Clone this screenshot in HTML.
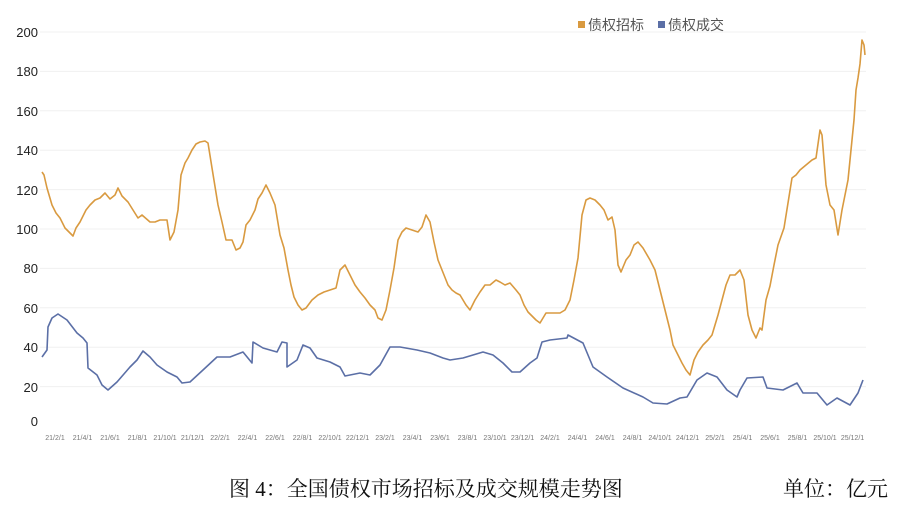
<!DOCTYPE html>
<html><head><meta charset="utf-8"><style>
html,body{margin:0;padding:0;background:#fff;width:900px;height:510px;overflow:hidden}
svg{display:block}
</style></head><body>
<svg width="900" height="510" xmlns="http://www.w3.org/2000/svg">
<g stroke="#f0f0f0" stroke-width="1">
<line x1="40" x2="866" y1="32" y2="32"/><line x1="40" x2="866" y1="71.4" y2="71.4"/>
<line x1="40" x2="866" y1="110.8" y2="110.8"/><line x1="40" x2="866" y1="150.2" y2="150.2"/>
<line x1="40" x2="866" y1="189.6" y2="189.6"/><line x1="40" x2="866" y1="229" y2="229"/>
<line x1="40" x2="866" y1="268.4" y2="268.4"/><line x1="40" x2="866" y1="307.8" y2="307.8"/>
<line x1="40" x2="866" y1="347.2" y2="347.2"/><line x1="40" x2="866" y1="386.6" y2="386.6"/>
</g>
<g font-family="Liberation Sans, sans-serif" font-size="13" fill="#222" text-anchor="end">
<text x="38" y="37">200</text><text x="38" y="76">180</text><text x="38" y="116">160</text>
<text x="38" y="155">140</text><text x="38" y="195">120</text><text x="38" y="234">100</text>
<text x="38" y="273">80</text><text x="38" y="313">60</text><text x="38" y="352">40</text>
<text x="38" y="392">20</text><text x="38" y="426">0</text>
</g>
<g font-family="Liberation Sans, sans-serif" font-size="7" fill="#777" text-anchor="middle">
<text x="55" y="440">21/2/1</text><text x="82.5" y="440">21/4/1</text><text x="110" y="440">21/6/1</text>
<text x="137.5" y="440">21/8/1</text><text x="165" y="440">21/10/1</text><text x="192.5" y="440">21/12/1</text>
<text x="220" y="440">22/2/1</text><text x="247.5" y="440">22/4/1</text><text x="275" y="440">22/6/1</text>
<text x="302.5" y="440">22/8/1</text><text x="330" y="440">22/10/1</text><text x="357.5" y="440">22/12/1</text>
<text x="385" y="440">23/2/1</text><text x="412.5" y="440">23/4/1</text><text x="440" y="440">23/6/1</text>
<text x="467.5" y="440">23/8/1</text><text x="495" y="440">23/10/1</text><text x="522.5" y="440">23/12/1</text>
<text x="550" y="440">24/2/1</text><text x="577.5" y="440">24/4/1</text><text x="605" y="440">24/6/1</text>
<text x="632.5" y="440">24/8/1</text><text x="660" y="440">24/10/1</text><text x="687.5" y="440">24/12/1</text>
<text x="715" y="440">25/2/1</text><text x="742.5" y="440">25/4/1</text><text x="770" y="440">25/6/1</text>
<text x="797.5" y="440">25/8/1</text><text x="825" y="440">25/10/1</text><text x="852.5" y="440">25/12/1</text>
</g>
<polyline fill="none" stroke="#d99a40" stroke-width="1.6" stroke-linejoin="round" points="42,172 44,175 47,188 52,205 56,213 60,218 65,228 70,233 73,236 76,228 80,222 86,210 90,205 95,200 100,198 105,193 110,199 115,195 118,188 122,196 128,202 133,210 138,218 142,215 150,222 155,222 160,220 167,220 170,240 174,232 178,210 181,175 185,163 188,158 192,150 196,144 200,142 205,141 208,143 212,168 218,205 222,222 226,240 232,240 236,250 240,248 243,242 246,225 250,220 255,210 258,199 262,193 266,185 270,193 275,205 280,235 284,248 288,270 291,285 294,297 298,305 302,310 306,308 312,300 318,295 324,292 330,290 336,288 340,270 345,265 350,275 355,285 360,292 365,298 370,305 375,310 378,318 382,320 386,310 390,290 394,268 398,240 402,232 406,228 412,230 418,232 422,227 426,215 430,222 434,242 438,260 442,270 448,285 452,290 456,293 460,295 466,305 470,310 475,300 480,292 485,285 490,285 496,280 500,282 505,285 510,283 516,290 520,295 524,305 528,312 532,316 536,320 540,323 546,313 555,313 560,313 565,310 570,300 574,280 578,258 582,215 586,200 590,198 595,200 600,205 604,210 608,220 612,217 615,230 618,265 621,272 626,260 630,255 634,245 638,242 643,248 650,260 655,270 660,290 665,310 670,330 673,345 678,355 682,363 686,370 690,375 694,360 698,352 703,345 708,340 712,335 718,315 722,300 726,285 730,275 735,275 740,270 744,280 748,315 752,330 756,338 760,328 762,330 766,300 770,286 774,265 778,245 784,228 788,203 792,178 796,175 800,170 806,165 812,160 816,158 820,130 822,135 826,185 830,205 834,210 838,235 842,210 846,190 848,180 852,140 854,120 856,90 858,78 860,64 862,40 864,45 865,55"/>
<polyline fill="none" stroke="#5b6fa6" stroke-width="1.6" stroke-linejoin="round" points="42,357 47,350 48,327 52,318 58,314 67,320 77,333 83,338 87,343 88,368 97,375 102,385 108,390 117,382 130,367 137,360 143,351 150,357 157,365 167,372 177,377 182,383 190,382 203,370 217,357 230,357 243,352 252,363 253,342 263,348 277,352 282,342 287,343 287,367 297,360 303,345 310,348 317,358 330,362 340,367 345,376 360,373 370,375 380,365 390,347 400,347 417,350 430,353 443,358 450,360 463,358 483,352 493,355 503,363 512,372 520,372 530,363 537,358 542,342 550,340 567,338 568,335 583,343 593,367 607,377 623,388 643,397 653,403 667,404 680,398 687,397 697,380 707,373 717,377 727,390 737,397 740,390 747,378 763,377 767,388 783,390 797,383 803,393 817,393 827,405 837,398 850,405 858,393 863,380"/>
<rect x="578" y="21" width="7" height="7" fill="#d99a40"/>
<text x="588" y="30" font-family="Liberation Sans, Noto Sans CJK SC, sans-serif" font-size="14" fill="#555">债权招标</text>
<rect x="658" y="21" width="7" height="7" fill="#5b6fa6"/>
<text x="668" y="30" font-family="Liberation Sans, Noto Sans CJK SC, sans-serif" font-size="14" fill="#555">债权成交</text>
<text x="229" y="496" font-family="Liberation Serif, Noto Serif CJK SC, serif" font-size="21" fill="#111">图 4：全国债权市场招标及成交规模走势图</text>
<text x="783" y="496" font-family="Liberation Serif, Noto Serif CJK SC, serif" font-size="21" fill="#111">单位：亿元</text>
</svg>
</body></html>
